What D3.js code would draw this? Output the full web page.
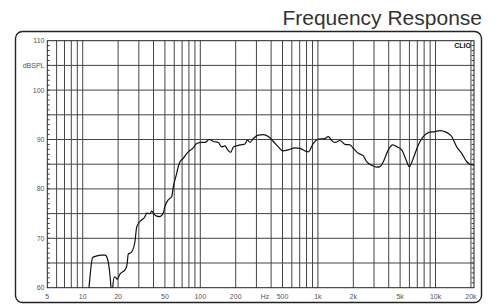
<!DOCTYPE html>
<html>
<head>
<meta charset="UTF-8">
<script src="https://cdn.jsdelivr.net/npm/d3@7"></script>
<style>
  body { margin: 0; background: #fff; }
  text { font-family: "Liberation Sans", Arial, sans-serif; }
</style>
</head>
<body>
<div id="chart"></div>
<script>
// frequency response, Hz / dBSPL
const freqs = [10.9, 11.3, 12.15, 13.0, 14.5, 15.5, 15.9, 16.4, 17.4, 17.7, 18.0, 18.6, 19.0, 19.6, 20.8, 22.9, 23.8, 24.4, 25.8,
  27.8, 28.8, 30.7, 33.9, 35.0, 37.3, 38.6, 40.4, 42.6, 45.4, 48.4, 50.1, 53.4, 57.1, 58.9, 62.1, 66.3, 71.6, 79, 87.1, 93.1,
  102.8, 109.6, 119.3, 129, 142.3, 152.1, 162.2, 169.8, 181.5, 190.9, 217.7, 240, 251.1, 264.8, 282.6, 311.3, 343.5, 378.6,
  417.6, 460.4, 502, 560, 638, 704, 777, 828, 914, 1007, 1148, 1225, 1309, 1397, 1541, 1698, 1874, 2000, 2207, 2433, 2599,
  2866, 3160, 3373, 3598, 3969, 4325, 4731, 5162, 5612, 5985, 6472, 7137, 7871, 8680, 9904, 10925, 12282, 13733, 15145,
  16700, 18420, 19640, 21240];
const spl = [56, 60, 66.1, 66.4, 66.6, 66.6, 66.4, 65.5, 60, 57, 60, 62.2, 62.1, 61.7, 62.8, 63.6, 64.6, 66.8, 67.1,
  69.3, 72.3, 73.4, 74.4, 75.1, 75.0, 75.5, 74.9, 74.5, 74.4, 75.1, 76.5, 77.8, 78.4, 80.4, 82.6, 85.2, 86.2, 87.5, 88.3, 89.2,
  89.4, 89.4, 90.0, 89.6, 89.4, 88.5, 88.7, 88.0, 87.4, 88.5, 88.9, 89.1, 89.9, 89.4, 90.2, 90.9, 91.0, 90.6,
  89.6, 88.5, 87.7, 87.9, 88.3, 88.2, 87.7, 87.5, 89.2, 90.1, 90.2, 90.6, 89.8, 89.4, 89.8, 89.0, 88.9, 88.2, 87.2, 86.7, 85.5,
  84.8, 84.4, 84.5, 85.5, 87.9, 88.9, 88.5, 87.9, 85.9, 84.5, 86.2, 88.9, 90.6, 91.4, 91.6, 91.8, 91.5, 90.6, 88.5,
  87.2, 85.5, 85.0, 84.8];

const gridFreqs = [6, 7, 8, 9, 10, 20, 30, 40, 50, 60, 70, 80, 90, 100, 200, 300, 400, 500, 600, 700, 800, 900,
  1000, 2000, 3000, 4000, 5000, 6000, 7000, 8000, 9000, 10000, 20000];
const xLabels = [[5, "5"], [10, "10"], [20, "20"], [50, "50"], [100, "100"], [200, "200"], [500, "500"],
  [1000, "1k"], [2000, "2k"], [5000, "5k"], [10000, "10k"], [20000, "20k"]];
const yGrid = [65, 70, 75, 80, 85, 90, 95, 100, 105];
const yLabels = [110, 100, 90, 80, 70, 60];

const W = 495, H = 304;
const pL = 47.3, pR = 474, pT = 40.7, pB = 287.7;

const x = d3.scaleLog().domain([5, 21240]).range([pL, pR]);
const y = d3.scaleLinear().domain([60, 110]).range([pB, pT]);

const svg = d3.select("#chart").append("svg").attr("width", W).attr("height", H);

// outer rounded frame
svg.append("rect")
  .attr("x", 15.5).attr("y", 31.5).attr("width", 466).attr("height", 271).attr("rx", 7)
  .attr("fill", "none").attr("stroke", "#222").attr("stroke-width", 1.4);

svg.append("text").attr("x", 482).attr("y", 25).attr("text-anchor", "end")
  .attr("font-size", 21).attr("fill", "#333").text("Frequency Response");

// grid
const grid = svg.append("g").attr("stroke", "#444").attr("stroke-width", 1);
grid.selectAll(".vg").data(gridFreqs).enter().append("line")
  .attr("x1", d => x(d)).attr("x2", d => x(d)).attr("y1", pT).attr("y2", pB);
grid.selectAll(".hg").data(yGrid).enter().append("line")
  .attr("x1", pL).attr("x2", pR).attr("y1", d => y(d)).attr("y2", d => y(d));

// minor ticks every dB, both sides
const minor = d3.range(61, 110);
grid.selectAll(".lt").data(minor).enter().append("line")
  .attr("x1", pL).attr("x2", pL + 2.5).attr("y1", d => y(d)).attr("y2", d => y(d));
grid.selectAll(".rt").data(minor).enter().append("line")
  .attr("x1", pR - 2.5).attr("x2", pR).attr("y1", d => y(d)).attr("y2", d => y(d));

// plot border
svg.append("rect").attr("x", pL).attr("y", pT).attr("width", pR - pL).attr("height", pB - pT)
  .attr("fill", "none").attr("stroke", "#222").attr("stroke-width", 1);

// labels
svg.selectAll(".yl").data(yLabels).enter().append("text")
  .attr("x", 44.5).attr("y", d => y(d) + 2.5).attr("text-anchor", "end")
  .attr("font-size", 7).attr("fill", "#555").text(d => d);
svg.append("text").attr("x", 44.5).attr("y", y(105) + 2.5).attr("text-anchor", "end")
  .attr("font-size", 7).attr("fill", "#555").text("dBSPL");
svg.selectAll(".xl").data(xLabels).enter().append("text")
  .attr("x", d => x(d[0])).attr("y", 298.5).attr("text-anchor", "middle")
  .attr("font-size", 7).attr("fill", "#555").text(d => d[1]);
svg.append("text").attr("x", 265).attr("y", 298.5).attr("text-anchor", "middle")
  .attr("font-size", 7).attr("fill", "#555").text("Hz");
svg.append("text").attr("x", 471).attr("y", 47.5).attr("text-anchor", "end")
  .attr("font-size", 7).attr("font-weight", "bold").attr("font-family", "'Liberation Serif', serif")
  .attr("fill", "#111").text("CLIO");

// curve
svg.append("clipPath").attr("id", "clip").append("rect")
  .attr("x", pL).attr("y", pT).attr("width", pR - pL).attr("height", pB - pT);
const pts = freqs.map((f, i) => [f, spl[i]]);
svg.append("path")
  .attr("clip-path", "url(#clip)")
  .attr("d", d3.line().x(d => x(d[0])).y(d => y(d[1])).curve(d3.curveMonotoneX)(pts))
  .attr("fill", "none").attr("stroke", "#111").attr("stroke-width", 1.2);
</script>
</body>
</html>
